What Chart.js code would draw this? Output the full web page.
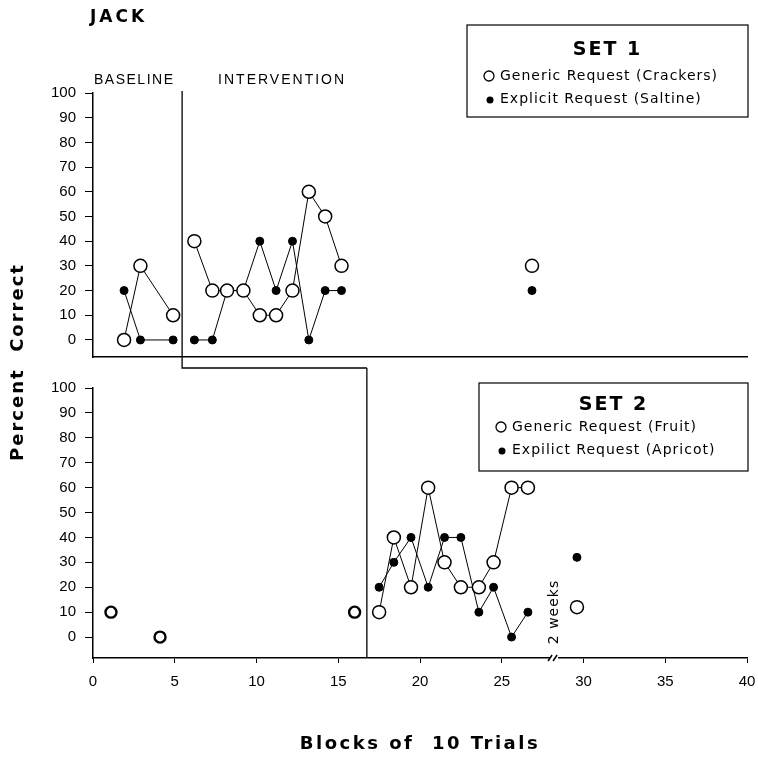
<!DOCTYPE html>
<html>
<head>
<meta charset="utf-8">
<script src="https://cdn.jsdelivr.net/npm/chart.js@4.4.1/dist/chart.umd.min.js"></script>
<style>
  html, body { margin: 0; padding: 0; background: #fff; }
  #wrap { position: relative; width: 758px; height: 758px; }
  #wrap canvas { position: absolute; left: 0; top: 0; }
</style>
</head>
<body>
<div id="wrap">
  <canvas id="set1" width="758" height="758"></canvas>
  <canvas id="set2" width="758" height="758"></canvas>
</div>
<script>
// axis ticks
const xTickValues = [0, 5, 10, 15, 20, 25, 30, 35, 40];
const yTickValues = [0, 10, 20, 30, 40, 50, 60, 70, 80, 90, 100];

// SET 1 (crackers / saltine)
const set1BaseX = [1.9, 2.9, 4.9];
const set1BaseGeneric = [0, 30, 10];
const set1BaseExplicit = [20, 0, 0];
const set1IntX = [6.2, 7.3, 8.2, 9.2, 10.2, 11.2, 12.2, 13.2, 14.2, 15.2];
const set1IntGeneric = [40, 20, 20, 20, 10, 10, 20, 60, 50, 30];
const set1IntExplicit = [0, 0, 20, 20, 40, 20, 40, 0, 20, 20];
const set1FollowX = [26.85];
const set1FollowGeneric = [30];
const set1FollowExplicit = [20];

// SET 2 (fruit / apricot)
const set2BaseX = [1.1, 4.1, 16.0];
const set2BaseGeneric = [10, 0, 10];
const set2IntX = [17.5, 18.4, 19.45, 20.5, 21.5, 22.5, 23.6, 24.5, 25.6, 26.6];
const set2IntGeneric = [10, 40, 20, 60, 30, 20, 20, 30, 60, 60];
const set2IntExplicit = [20, 30, 40, 20, 40, 40, 10, 20, 0, 10];
const set2FollowX = [29.6];
const set2FollowGeneric = [12];
const set2FollowExplicit = [32];

const set1Labels = ['Generic Request (Crackers)', 'Explicit Request (Saltine)'];
const set2Labels = ['Generic Request (Fruit)', 'Expilict Request (Apricot)'];

// phase change lines and the 2 week break, in x units
const phaseSet1 = 5.45;
const phaseSet2 = 16.75;
const breakAt = 28.2;

const tickFont = { family: 'Liberation Sans', size: 15 };

function pts(xs, ys) {
  return xs.map((x, i) => ({ x: x, y: ys[i] }));
}

function openSeries(xs, ys, line, thick) {
  return {
    data: pts(xs, ys), showLine: line, borderColor: '#000', borderWidth: 1,
    pointRadius: thick ? 5.5 : 6.5, pointBorderWidth: thick ? 2.4 : 1.5,
    pointBackgroundColor: '#fff', pointBorderColor: '#000', order: 0, clip: false
  };
}

function filledSeries(xs, ys, line) {
  return {
    data: pts(xs, ys), showLine: line, borderColor: '#000', borderWidth: 1,
    pointRadius: 4, pointBorderWidth: 1,
    pointBackgroundColor: '#000', pointBorderColor: '#000', order: 1, clip: false
  };
}

function scalesFor(yMin, bottomAxis) {
  return {
    x: {
      type: 'linear', min: 0, max: 40,
      afterBuildTicks: s => { s.ticks = xTickValues.map(v => ({ value: v })); },
      ticks: { display: bottomAxis, padding: 10, color: '#000', font: tickFont, autoSkip: false, maxRotation: 0 },
      grid: { display: bottomAxis, drawOnChartArea: false, drawTicks: bottomAxis, tickLength: 5, color: '#000' },
      border: { display: true, color: '#000', width: 1.5 },
      afterFit: s => {
        s.height = bottomAxis ? 100 : 0;
        // keep both panels on the same x pixels
        s.paddingLeft = 0;
        s.paddingRight = 0;
      }
    },
    y: {
      type: 'linear', min: yMin, max: 100,
      afterBuildTicks: s => { s.ticks = yTickValues.map(v => ({ value: v })); },
      ticks: { padding: 9, color: '#000', font: tickFont },
      grid: { drawOnChartArea: false, tickLength: 8, color: '#000' },
      border: { color: '#000', width: 1.5 },
      afterFit: s => { s.width = 93; s.paddingTop = 0; s.paddingBottom = 0; }
    }
  };
}

function drawLegend(ctx, box, title, labels) {
  ctx.lineWidth = 1.2;
  ctx.strokeRect(box.x, box.y, box.w, box.h);
  ctx.textBaseline = 'middle';
  ctx.textAlign = 'center';
  ctx.font = 'bold 19px "DejaVu Sans"';
  ctx.letterSpacing = '2px';
  ctx.fillText(title, box.x + box.w / 2, box.y + box.titleDy);
  ctx.textAlign = 'left';
  ctx.font = '14px "DejaVu Sans"';
  ctx.letterSpacing = '1px';
  for (let i = 0; i < labels.length; i++) {
    const y = box.y + box.itemDy + i * 23;
    ctx.beginPath();
    if (i == 0) {
      ctx.lineWidth = 1.3;
      ctx.arc(box.x + 22, y, 5, 0, Math.PI * 2);
      ctx.stroke();
    } else {
      ctx.arc(box.x + 23, y + 1, 3.5, 0, Math.PI * 2);
      ctx.fill();
    }
    ctx.fillText(labels[i], box.x + 33, y);
  }
}

const set1Extras = {
  id: 'set1Extras',
  afterDraw(chart) {
    const { ctx, chartArea: a, scales: { x } } = chart;
    ctx.save();
    ctx.strokeStyle = '#000';
    ctx.fillStyle = '#000';

    // phase change line, drops below the axis and turns right
    const px1 = x.getPixelForValue(phaseSet1);
    const px2 = x.getPixelForValue(phaseSet2);
    const turnY = a.bottom + 11;
    ctx.lineWidth = 1.3;
    ctx.beginPath();
    ctx.moveTo(px1, a.top - 2);
    ctx.lineTo(px1, turnY);
    ctx.lineTo(px2, turnY);
    ctx.stroke();

    ctx.textBaseline = 'middle';
    ctx.textAlign = 'left';
    ctx.font = 'bold 17px "DejaVu Sans"';
    ctx.letterSpacing = '3px';
    ctx.fillText('JACK', 90, 18);

    ctx.font = '14px "Liberation Sans"';
    ctx.letterSpacing = '1.5px';
    ctx.fillText('BASELINE', a.left + 1, a.top - 13);
    ctx.letterSpacing = '2px';
    ctx.fillText('INTERVENTION', px1 + 36, a.top - 13);

    ctx.save();
    ctx.translate(18, 362);
    ctx.rotate(-Math.PI / 2);
    ctx.textAlign = 'center';
    ctx.font = 'bold 18px "DejaVu Sans"';
    ctx.letterSpacing = '2px';
    ctx.fillText('Percent  Correct', 0, 0);
    ctx.restore();

    drawLegend(ctx, { x: 467, y: 25, w: 281, h: 92, titleDy: 25, itemDy: 51 }, 'SET 1', set1Labels);
    ctx.restore();
  }
};

const set2Extras = {
  id: 'set2Extras',
  afterDraw(chart) {
    const { ctx, chartArea: a, scales: { x } } = chart;
    ctx.save();
    ctx.strokeStyle = '#000';
    ctx.fillStyle = '#000';

    const px2 = x.getPixelForValue(phaseSet2);
    ctx.lineWidth = 1.3;
    ctx.beginPath();
    ctx.moveTo(px2, a.top - 20);
    ctx.lineTo(px2, a.bottom);
    ctx.stroke();

    // break marks on the x axis
    const bx = x.getPixelForValue(breakAt);
    ctx.fillStyle = '#fff';
    ctx.fillRect(bx - 4, a.bottom - 2, 8, 4);
    ctx.fillStyle = '#000';
    ctx.lineWidth = 1.5;
    ctx.beginPath();
    ctx.moveTo(bx - 6, a.bottom + 3);
    ctx.lineTo(bx - 2, a.bottom - 3);
    ctx.moveTo(bx - 1, a.bottom + 3);
    ctx.lineTo(bx + 3, a.bottom - 3);
    ctx.stroke();

    ctx.save();
    ctx.translate(bx, a.bottom - 46);
    ctx.rotate(-Math.PI / 2);
    ctx.textAlign = 'center';
    ctx.textBaseline = 'middle';
    ctx.font = '14px "DejaVu Sans"';
    ctx.letterSpacing = '1px';
    ctx.fillText('2 weeks', 0, 0);
    ctx.restore();

    ctx.textAlign = 'center';
    ctx.textBaseline = 'middle';
    ctx.font = 'bold 18px "DejaVu Sans"';
    ctx.letterSpacing = '2.5px';
    ctx.fillText('Blocks of  10 Trials', (a.left + a.right) / 2, 744);

    drawLegend(ctx, { x: 479, y: 383, w: 269, h: 88, titleDy: 22, itemDy: 44 }, 'SET 2', set2Labels);
    ctx.restore();
  }
};

function baseOptions(padding, yMin, bottomAxis) {
  return {
    responsive: false,
    devicePixelRatio: 1,
    animation: false,
    events: [],
    layout: { padding: padding },
    elements: { line: { tension: 0 } },
    plugins: { legend: { display: false }, tooltip: { enabled: false } },
    scales: scalesFor(yMin, bottomAxis)
  };
}

new Chart(document.getElementById('set1'), {
  type: 'line',
  data: {
    datasets: [
      openSeries(set1BaseX, set1BaseGeneric, true),
      filledSeries(set1BaseX, set1BaseExplicit, true),
      openSeries(set1IntX, set1IntGeneric, true),
      filledSeries(set1IntX, set1IntExplicit, true),
      openSeries(set1FollowX, set1FollowGeneric, false),
      filledSeries(set1FollowX, set1FollowExplicit, false)
    ]
  },
  options: baseOptions({ top: 93, right: 11, bottom: 401, left: 0 }, -6.9, false),
  plugins: [set1Extras]
});

new Chart(document.getElementById('set2'), {
  type: 'line',
  data: {
    datasets: [
      openSeries(set2BaseX, set2BaseGeneric, false, true),
      openSeries(set2IntX, set2IntGeneric, true),
      filledSeries(set2IntX, set2IntExplicit, true),
      openSeries(set2FollowX, set2FollowGeneric, false),
      filledSeries(set2FollowX, set2FollowExplicit, false)
    ]
  },
  options: baseOptions({ top: 388, right: 11, bottom: 0, left: 0 }, -8.4, true),
  plugins: [set2Extras]
});
</script>
</body>
</html>
